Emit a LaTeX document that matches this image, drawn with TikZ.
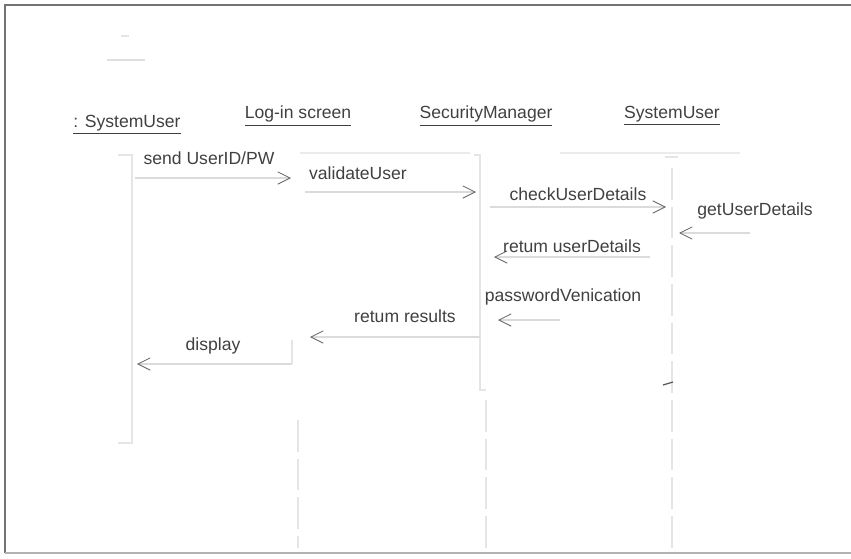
\documentclass[tikz,border=0pt]{standalone}
\usepackage{fontspec}
\setmainfont{Liberation Sans}
\usetikzlibrary{arrows.meta, positioning}

\begin{document}
\begin{tikzpicture}[
x=0.02cm, y=-0.02cm,
lbl/.style={inner sep=1pt, text=black!75, font=\fontsize{10}{12}\selectfont},
head/.style={inner sep=1pt, text=black!75, font=\fontsize{10}{12}\selectfont},
msg/.style={draw=black!14, line width=0.6pt,
-{Straight Barb[length=7pt, width=7pt, color=black!60, line width=0.5pt]}},
life/.style={draw=black!10, line width=0.6pt},
dlife/.style={draw=black!10, line width=0.6pt, dash pattern=on 18pt off 4pt}
]
\useasboundingbox (0,0) rectangle (851,558);
% frame
\draw[black!55, line width=0.8pt] (851,5) -- (5,5) -- (5,553);
\draw[black!30, line width=0.6pt] (5,553) -- (851,553);
\draw[black!12, line width=0.6pt] (107,60) -- (145,60);
\draw[black!10, line width=0.6pt] (121,36) -- (129,36);

% objects
\node[head] (usr) at (127,125) {\underline{: SystemUser}};
\node[head] (login) at (298,116) {\underline{Log-in screen}};
\node[head] (secmgr) at (486,116) {\underline{SecurityManager}};
\node[head] (usr2) at (672,116) {\underline{SystemUser}};
\draw[black!8, line width=0.6pt] (300,153) -- (470,153);
\draw[black!8, line width=0.6pt] (560,153) -- (740,153);

% lifelines and activations
\draw[life] (118,155) -- (132,155) -- (132,443) -- (118,443);
\draw[life] (292,340) -- (292,364);
\draw[dlife] (298,420) -- (298,548);
\draw[life] (474,155) -- (480,155) -- (480,390) -- (486,390);
\draw[dlife] (486,400) -- (486,548);
\draw[life] (665,157) -- (678,157);
\draw[dlife] (672,168) -- (672,548);
\draw[black!65, line width=0.7pt] (663,385) -- (673,382);

% message ends
\coordinate (a1) at (135,178);  \coordinate (b1) at (291,178);
\coordinate (a2) at (305,192);  \coordinate (b2) at (476,192);
\coordinate (a3) at (490,207);  \coordinate (b3) at (666,207);
\coordinate (a4) at (750,233);  \coordinate (b4) at (679,233);
\coordinate (a5) at (650,257);  \coordinate (b5) at (494,257);
\coordinate (a6) at (560,320);  \coordinate (b6) at (498,320);
\coordinate (a7) at (480,337);  \coordinate (b7) at (310,337);
\coordinate (a8) at (292,364);  \coordinate (b8) at (137,364);

\draw[msg] (a1) -- (b1);
\draw[msg] (a2) -- (b2);
\draw[msg] (a3) -- (b3);
\draw[msg] (a4) -- (b4);
\draw[msg] (a5) -- (b5);
\draw[msg] (a6) -- (b6);
\draw[msg] (a7) -- (b7);
\draw[msg] (a8) -- (b8);

\node[lbl] (m1) at (209,158) {send UserID/PW};
\node[lbl] (m2) at (358,173) {validateUser};
\node[lbl] (m3) at (578,194) {checkUserDetails};
\node[lbl] (m4) at (755,211) {getUserDetails};
\node[lbl] (m5) at (572,246) {retum userDetails};
\node[lbl] (m6) at (563,297) {passwordVenication};
\node[lbl] (m7) at (405,316) {retum results};
\node[lbl] (m8) at (213,346) {display};
\end{tikzpicture}
\end{document}
